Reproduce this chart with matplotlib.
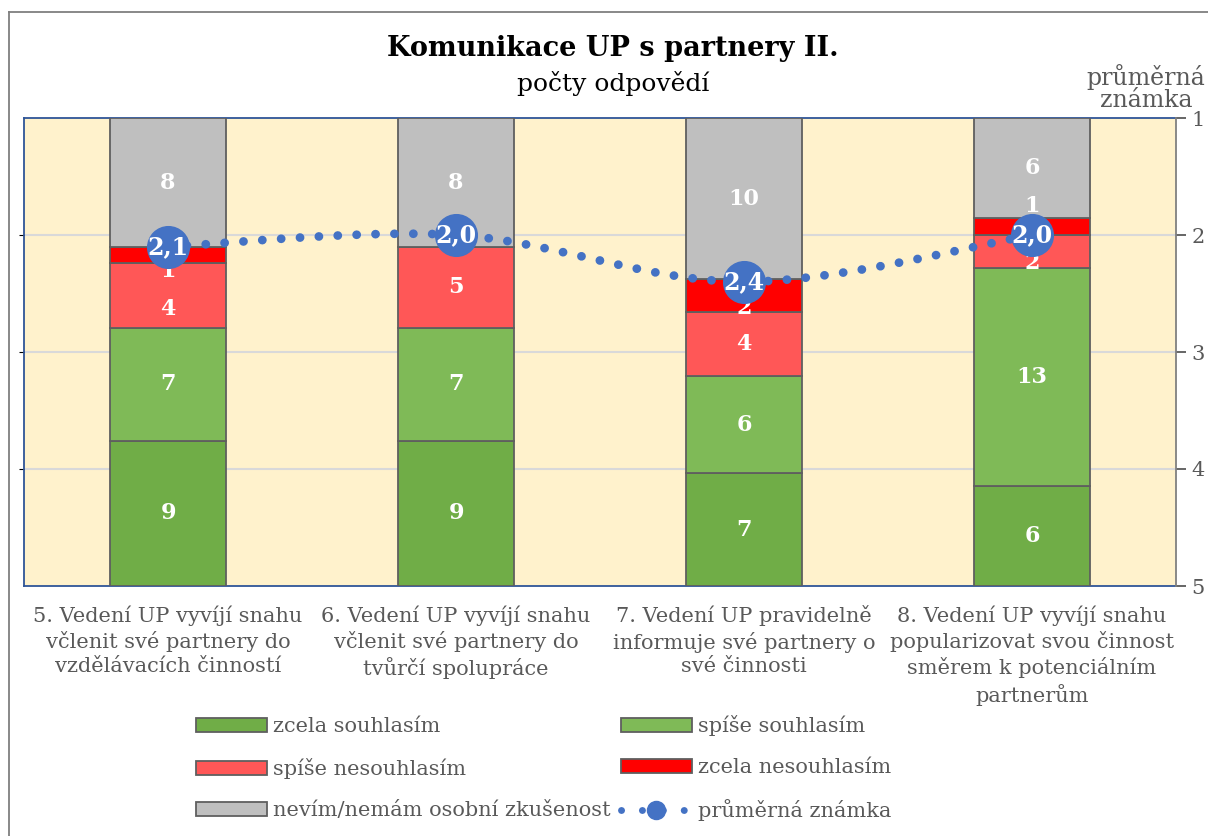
import matplotlib
matplotlib.use("Agg")
import matplotlib.pyplot as plt
from matplotlib.patches import Patch
from matplotlib.lines import Line2D
import numpy as np

categories = [
    "5. Vedení UP vyvíjí snahu\nvčlenit své partnery do\nvzdělávacích činností",
    "6. Vedení UP vyvíjí snahu\nvčlenit své partnery do\ntvůrčí spolupráce",
    "7. Vedení UP pravidelně\ninformuje své partnery o\nsvé činnosti",
    "8. Vedení UP vyvíjí snahu\npopularizovat svou činnost\nsměrem k potenciálním\npartnerům",
]
series_names = ["zcela souhlasím", "spíše souhlasím", "spíše nesouhlasím",
                "zcela nesouhlasím", "nevím/nemám osobní zkušenost"]
zcela_souhlasim = [9, 9, 7, 6]
spise_souhlasim = [7, 7, 6, 13]
spise_nesouhlasim = [4, 5, 4, 2]
zcela_nesouhlasim = [1, 0, 2, 1]
nevim = [8, 8, 10, 6]
prumerna_znamka = [2.1, 2.0, 2.4, 2.0]
grade_ticks = [1, 2, 3, 4, 5]

colors = ["#70AD47", "#7FBA57", "#FF5757", "#FF0000", "#BFBFBF"]
# manual nudges of data labels (pixels, + = down)
label_nudge = {(0, 3): 16, (0, 2): 13, (2, 3): 12, (3, 3): -21, (3, 2): 11}

plt.rcParams["font.family"] = ["DejaVu Serif"]
grey_txt = "#595959"

fig = plt.figure(figsize=(12.08, 8.36), dpi=100)
ax = fig.add_axes([24 / 1208, 1 - 586 / 836, (1176 - 24) / 1208, (586 - 118) / 836])
ax.set_facecolor("#FFF2CC")

data = np.array([zcela_souhlasim, spise_souhlasim, spise_nesouhlasim,
                 zcela_nesouhlasim, nevim], dtype=float)
totals = data.sum(axis=0)
pct = data / totals * 100
x = np.arange(len(categories))
bottom = np.zeros(len(categories))
for i, name in enumerate(series_names):
    ax.bar(x, pct[i], 0.4, bottom=bottom, color=colors[i], edgecolor="#5F5F5F",
           linewidth=1.3, label=name, zorder=3)
    for j in range(len(categories)):
        if data[i, j] > 0:
            ax.annotate(f"{int(data[i, j])}", (x[j], bottom[j] + pct[i, j] / 2),
                        xytext=(0, -label_nudge.get((j, i), 0)), textcoords="offset pixels",
                        ha="center", va="center", color="white", fontsize=16,
                        fontweight="bold", zorder=6)
    bottom += pct[i]

ax.set_xlim(-0.5, 3.5)
ax.set_ylim(0, 100)
ax.set_yticks([25, 50, 75])
ax.yaxis.grid(True, color="#D9D9D9", linewidth=1.5, zorder=0)
ax.set_axisbelow(True)
ax.tick_params(axis="y", left=False, labelleft=False)
ax.set_xticks(x)
ax.set_xticklabels(categories, fontsize=15, color=grey_txt, linespacing=1.3)
ax.tick_params(axis="x", length=0, pad=14)
for side in ["left", "top", "bottom"]:
    ax.spines[side].set_color("#2F5597")
    ax.spines[side].set_linewidth(1.3)
ax.spines["right"].set_visible(False)

# secondary axis with the average grade
ax2 = ax.twinx()
ax2.set_ylim(5, 1)
ax2.set_yticks(grade_ticks)
ax2.tick_params(axis="y", colors=grey_txt, labelsize=15, length=7, width=1.3, pad=4)
ax2.spines["right"].set_color("#808080")
ax2.spines["right"].set_linewidth(1.3)
for side in ["left", "top", "bottom"]:
    ax2.spines[side].set_visible(False)


def catmull_rom(px, py, n=60):
    px = np.concatenate([[px[0]], px, [px[-1]]])
    py = np.concatenate([[py[0]], py, [py[-1]]])
    xs, ys = [], []
    t = np.linspace(0, 1, n)
    for k in range(1, len(px) - 2):
        p0, p1, p2, p3 = [np.array([px[m], py[m]]) for m in range(k - 1, k + 3)]
        c = 0.5 * (2 * p1[:, None] + (-p0 + p2)[:, None] * t
                   + (2 * p0 - 5 * p1 + 4 * p2 - p3)[:, None] * t ** 2
                   + (-p0 + 3 * p1 - 3 * p2 + p3)[:, None] * t ** 3)
        xs.extend(c[0])
        ys.extend(c[1])
    return np.array(xs), np.array(ys)


sx, sy = catmull_rom(x.astype(float), np.array(prumerna_znamka))
blue = "#4472C4"
ax2.plot(sx, sy, color=blue, linewidth=6.3, linestyle=(0, (0.01, 2.15)),
         dash_capstyle="round", zorder=4)
ax2.plot(x, prumerna_znamka, "o", color=blue, markersize=30, zorder=5)
for xi, g in zip(x, prumerna_znamka):
    ax2.text(xi, g, f"{g:.1f}".replace(".", ","), ha="center", va="center",
             color="white", fontsize=17, fontweight="bold", zorder=6)

fig.text(1146 / 1208, 1 - 88 / 836, "průměrná\nznámka", ha="center", va="center",
         fontsize=17, color=grey_txt, linespacing=0.95)

fig.text(613 / 1208, 1 - 48 / 836, "Komunikace UP s partnery II.", ha="center",
         va="center", fontsize=19.5, fontweight="bold", color="black")
fig.text(613 / 1208, 1 - 83 / 836, "počty odpovědí", ha="center", va="center",
         fontsize=18, color="black")

# legend
handles = [Patch(facecolor=c, edgecolor="#5F5F5F", linewidth=1.3) for c in colors]
line_handle = Line2D([0], [1], color=blue, linewidth=5, linestyle=(0, (0.01, 3)),
                     dash_capstyle="round", marker="o", markersize=13)
order = [handles[0], handles[2], handles[4], handles[1], handles[3], line_handle]
order_labels = [series_names[0], series_names[2], series_names[4],
                series_names[1], series_names[3], "průměrná známka"]
fig.legend(order, order_labels, ncol=2, loc="center", bbox_to_anchor=(0.45, 0.081),
           frameon=False, fontsize=15, handlelength=3.4, handletextpad=0.3,
           columnspacing=0.5, labelspacing=1.05, labelcolor=grey_txt)

# outer chart border
fig.add_artist(Line2D([9 / 1208, 9 / 1208], [0, 1 - 12 / 836], color="#7F7F7F",
                      linewidth=1.3, transform=fig.transFigure))
fig.add_artist(Line2D([9 / 1208, 1], [1 - 12 / 836, 1 - 12 / 836], color="#7F7F7F",
                      linewidth=1.3, transform=fig.transFigure))

fig.savefig("out.png", dpi=100)
